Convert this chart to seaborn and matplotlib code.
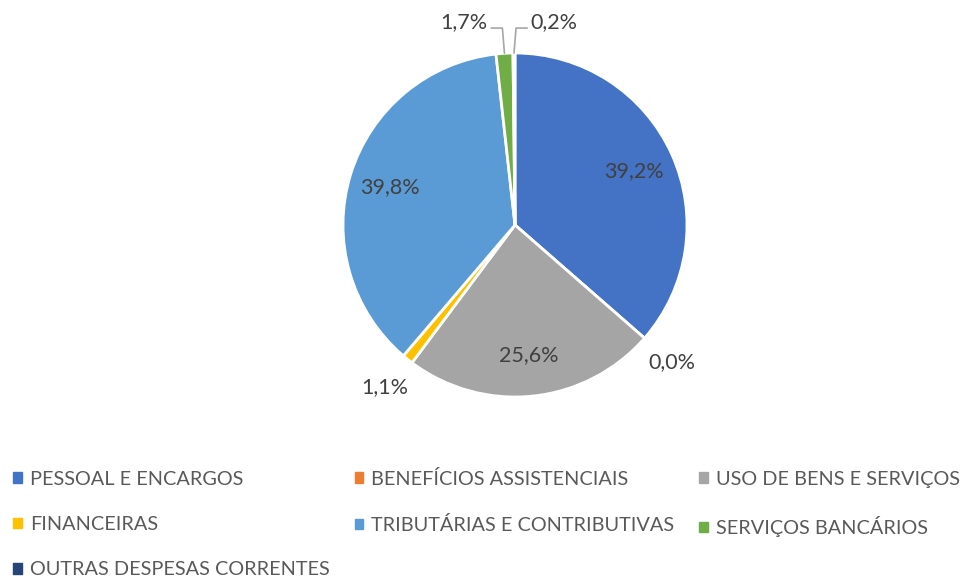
import numpy as np
import matplotlib
matplotlib.use("Agg")
import matplotlib.pyplot as plt
import matplotlib.patches as mpatches
import seaborn as sns

categorias = ["PESSOAL E ENCARGOS", "BENEFÍCIOS ASSISTENCIAIS", "USO DE BENS E SERVIÇOS",
              "FINANCEIRAS", "TRIBUTÁRIAS E CONTRIBUTIVAS", "SERVIÇOS BANCÁRIOS",
              "OUTRAS DESPESAS CORRENTES"]
valores = [39.2, 0.0, 25.6, 1.1, 39.8, 1.7, 0.2]
rotulos = ["39,2%", "0,0%", "25,6%", "1,1%", "39,8%", "1,7%", "0,2%"]
cores = ["#4472C4", "#ED7D31", "#A5A5A5", "#FFC000", "#5B9BD5", "#70AD47", "#264478"]

sns.set_theme(style="white")
plt.rcParams["font.family"] = ["Lato", "DejaVu Sans"]
paleta = sns.color_palette(cores)

fig = plt.figure(figsize=(9.65, 5.78), dpi=100)
ax = fig.add_axes([343 / 965, 1 - 397 / 578, 344 / 965, 344 / 578])

wedges, _ = ax.pie(valores, colors=paleta, startangle=90, counterclock=False,
                   wedgeprops=dict(edgecolor="white", linewidth=2))
ax.set_xlim(-1, 1)
ax.set_ylim(-1, 1)
ax.set_aspect("equal")

cor_txt = "#404040"
tam = 15.5
n = len(wedges)
for i, (w, r, v) in enumerate(zip(wedges, rotulos, valores)):
    ang = np.deg2rad((w.theta1 + w.theta2) / 2)
    c, s = np.cos(ang), np.sin(ang)
    if v > 5:
        ax.text(0.76 * c, 0.76 * s, r, ha="center", va="center", fontsize=tam, color=cor_txt)
    elif s > 0.9:
        # rótulos do topo com linha guia: último vai para a direita
        lado = 1 if i == n - 1 else -1
        x0, y0 = c, s
        x1, y1 = c + lado * 0.012, 1.145
        x2 = x1 + lado * 0.065
        ax.plot([x0, x1, x2], [y0, y1, y1], color="#A6A6A6", lw=1.2, clip_on=False)
        ax.text(x2 + lado * 0.02, y1 + 0.035, r, ha="right" if lado < 0 else "left",
                va="center", fontsize=tam, color=cor_txt)
    else:
        ax.text(1.21 * c, 1.21 * s, r, ha="center", va="center", fontsize=tam, color=cor_txt)

# legenda em 3 colunas, preenchida por linha
ordem = [0, 3, 6, 1, 4, 2, 5]
handles = [mpatches.Rectangle((0, 0), 1, 1, color=paleta[i]) for i in ordem]
fig.legend(handles, [categorias[i] for i in ordem], ncol=3, loc="upper left",
           bbox_to_anchor=(-0.005, 1 - 452 / 578), frameon=False, fontsize=14.3,
           labelcolor="#595959", handlelength=0.45, handleheight=0.45,
           handletextpad=0.4, columnspacing=1.25, labelspacing=1.42)

fig.savefig("out.png", dpi=100)
